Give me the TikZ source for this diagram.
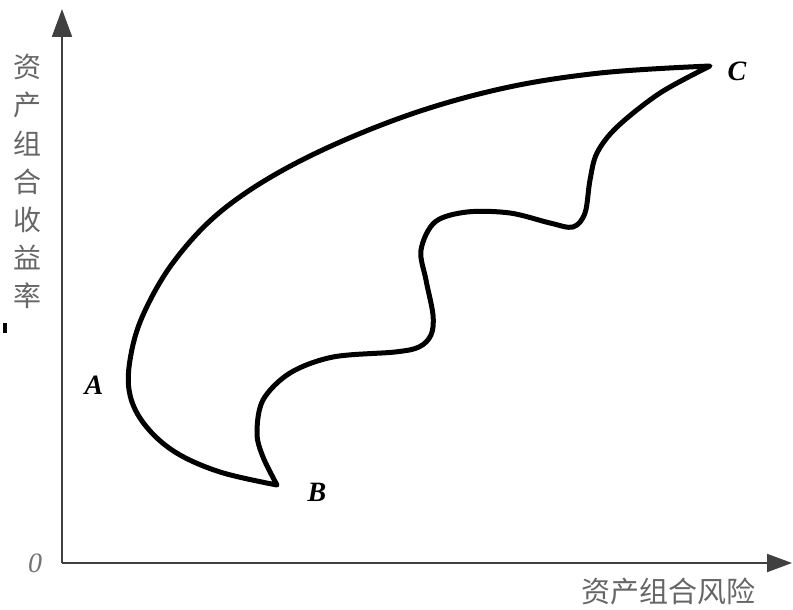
\documentclass[tikz,border=0pt]{standalone}
\usepackage{fontspec}
\newfontfamily\cjk{Noto Sans CJK SC}
\newfontfamily\latinserif{Liberation Serif}
\usetikzlibrary{arrows.meta}
\tikzset{
  axis/.style={draw=black!75, line width=2pt},
  curve/.style={draw=black, line width=5pt, line join=round},
  cjklabel/.style={text=black!60, font=\cjk\fontsize{28}{38.2}\selectfont, inner sep=0pt},
  ptlabel/.style={font=\latinserif\bfseries\itshape\fontsize{28}{30}\selectfont, inner sep=0pt},
}
\begin{document}
\begin{tikzpicture}[x=1pt,y=-1pt]
\useasboundingbox (0,0) rectangle (793,610);
% axes
\coordinate (O) at (62,563);
\coordinate (ytop) at (62,9);
\coordinate (xend) at (792,563);
\draw[axis, -{Triangle[length=28pt,width=20pt]}] (O) -- (ytop);
\draw[axis, -{Triangle[length=25pt,width=18pt]}] (O) -- (xend);
% labels
\node[cjklabel, align=center, anchor=north] (ylab) at (27,54) {资\\产\\组\\合\\收\\益\\率};
\node[cjklabel, font=\cjk\fontsize{29}{30}\selectfont, anchor=center] (xlab) at (668,591) {资产组合风险};
\node[font=\latinserif\itshape\fontsize{28}{30}\selectfont, text=black!55, inner sep=0pt] (zero) at (35,563) {0};
\node[ptlabel] (A) at (94,385) {A};
\node[ptlabel] (B) at (317,492) {B};
\node[ptlabel] (C) at (737,71) {C};
% small mark
\fill[black] (3,323) rectangle (7,333);
% feasible set outline
\draw[curve] plot[smooth, tension=0.6] coordinates {
 (710,66) (600,73) (500,89) (400,118) (300,161) (225,208) (175,260)
 (143,315) (130,360) (130,395) (145,425) (175,452) (220,472) (277,485)}
 -- plot[smooth, tension=0.55] coordinates {
 (277,485) (263,457) (257,433) (263,400) (290,373) (333,357) (395,352) (419,347)
 (431,335) (433,315) (426,280) (421,250) (435,222) (467,212) (510,213) (550,223)
 (573,227) (585,213) (590,180) (597,153) (617,127) (660,93) (710,66)} -- cycle;
\end{tikzpicture}
\end{document}
